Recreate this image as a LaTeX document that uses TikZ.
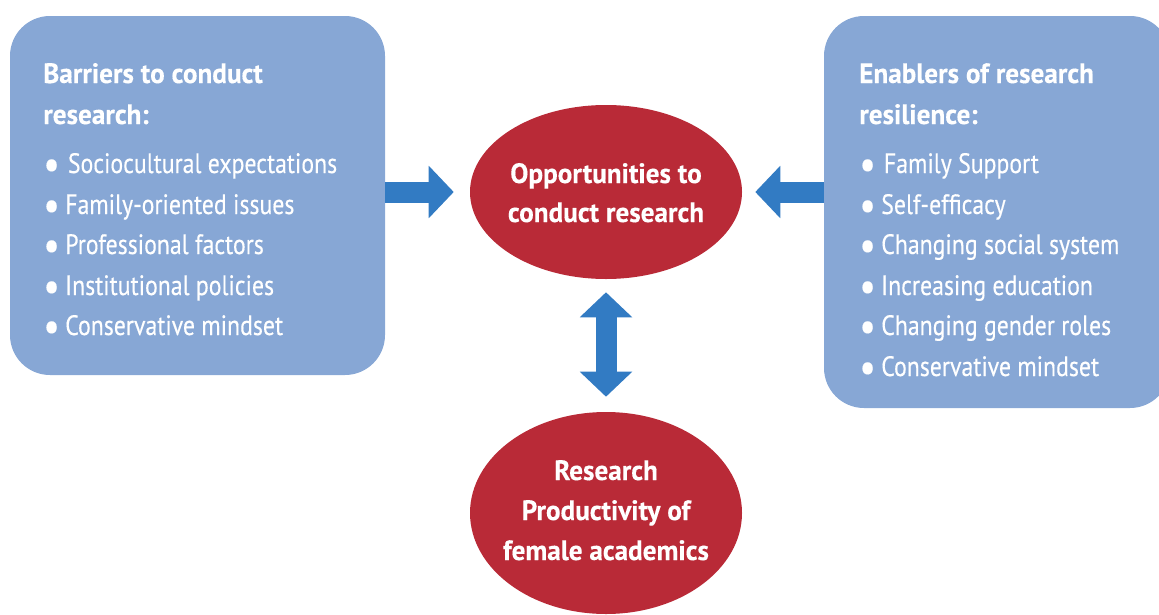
\documentclass[tikz,border=0pt]{standalone}
\usepackage{fontspec}
\setmainfont{PT Sans}[FakeStretch=0.85, FakeBold=0.3, BoldFeatures={FakeStretch=0.97, FakeBold=0.3}]
\usetikzlibrary{arrows.meta,shapes.geometric}
\definecolor{boxblue}{HTML}{87A7D5}
\definecolor{arrowblue}{HTML}{327BC3}
\definecolor{ovalred}{HTML}{B92A37}
\newcommand{\bul}[1]{\makebox[15pt][l]{\hspace{-1.5pt}\raisebox{-4.4pt}{\scalebox{1.55}{\textbullet}}}#1}

\begin{document}
\begin{tikzpicture}[x=0.75pt,y=-0.75pt,
  panel/.style={fill=boxblue, rounded corners=30pt, inner sep=0pt},
  oval/.style={ellipse, fill=ovalred, inner sep=0pt, minimum width=204pt},
  head/.style={anchor=base west, inner sep=0pt, text=white, font=\fontsize{21}{25}\selectfont\bfseries},
  item/.style={anchor=base west, inner sep=0pt, text=white, font=\fontsize{21}{25}\selectfont},
  ovaltext/.style={anchor=base, inner sep=0pt, text=white, font=\fontsize{21}{25}\selectfont\bfseries},
  blockarrow/.style={draw=arrowblue, line width=15.75pt},
  tip/.tip={Triangle[width=38.25pt,length=18.75pt]},
]
\useasboundingbox (0,0) rectangle (1159,614);

% panels
\node[panel, minimum width=281.25pt, minimum height=269.25pt] (lbox) at (197.5,195.5) {};
\node[panel, minimum width=259.5pt, minimum height=294pt] (rbox) at (997,212) {};

% ovals
\node[oval, minimum height=130.5pt] (opp) at (606,192) {};
\node[oval, minimum height=151.5pt] (prod) at (606,513) {};

% left panel text
\node[head] (lh1) at (43,83) {Barriers to conduct};
\node[head] (lh2) at (43,124) {research:};
\node[item] (li1) at (45,173) {\bul{\hspace{2pt}Sociocultural expectations}};
\node[item] (li2) at (45,214) {\bul{Family-oriented issues}};
\node[item] (li3) at (45,254) {\bul{Professional factors}};
\node[item] (li4) at (45,295) {\bul{Institutional policies}};
\node[item] (li5) at (45,335) {\bul{Conservative mindset}};

% right panel text
\node[head] (rh1) at (859,83) {Enablers of research};
\node[head] (rh2) at (859,124) {resilience:};
\node[item] (ri1) at (861,173) {\bul{\hspace{2pt}Family Support}};
\node[item] (ri2) at (861,214) {\bul{Self-efficacy}};
\node[item] (ri3) at (861,254) {\bul{Changing social system}};
\node[item] (ri4) at (861,295) {\bul{Increasing education}};
\node[item] (ri5) at (861,335) {\bul{Changing gender roles}};
\node[item] (ri6) at (861,376) {\bul{Conservative mindset}};

% oval text
\node[ovaltext] (ot1) at (606,183) {Opportunities to};
\node[ovaltext] (ot2) at (606,222) {conduct research};
\node[ovaltext] (pt1) at (606,480) {Research};
\node[ovaltext] (pt2) at (606,520) {Productivity of};
\node[ovaltext] (pt3) at (606,560) {female academics};

% arrows
\draw[blockarrow, -tip] (lbox.east |- opp.west) -- ([xshift=-12pt]opp.west);
\draw[blockarrow, -tip] (rbox.west |- opp.east) -- ([xshift=9.75pt]opp.east);
\draw[blockarrow, tip-tip] ([yshift=-9.75pt]opp.south) -- ([yshift=11.25pt]prod.north);
\end{tikzpicture}
\end{document}
